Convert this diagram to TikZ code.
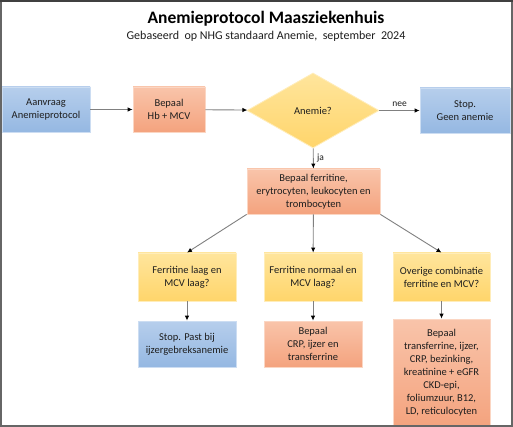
\documentclass[tikz,border=0pt]{standalone}
\usepackage{fontspec}
\setmainfont{Carlito}
\usepackage{tikz}
\usetikzlibrary{shapes.geometric}
\usetikzlibrary{arrows.meta}
\definecolor{bluetop}{HTML}{B6CEEC}
\definecolor{bluebot}{HTML}{95B8E2}
\definecolor{oratop}{HTML}{F9C4AA}
\definecolor{orabot}{HTML}{F4A37E}
\definecolor{yeltop}{HTML}{FFE59C}
\definecolor{yelbot}{HTML}{FFD56B}
\definecolor{txt}{HTML}{1E1E1E}
\definecolor{conn}{HTML}{808080}
\tikzstyle{box}=[inner sep=0pt, align=center, text=txt, line width=0.8pt, font=\fontsize{10.5}{13}\selectfont]
\tikzstyle{bluebox}=[box, draw=bluetop!70!white, top color=bluetop, bottom color=bluebot]
\tikzstyle{orabox}=[box, draw=oratop!70!white, top color=oratop, bottom color=orabot]
\tikzstyle{yelbox}=[box, draw=yeltop!70!white, top color=yeltop, bottom color=yelbot]
\tikzstyle{flow}=[draw=conn, line width=0.9pt, -{Latex[length=5pt, width=4.5pt, color=black]}]

\begin{document}
\begin{tikzpicture}[x=1pt, y=-1pt]
        \useasboundingbox (0, 0) rectangle (513, 427);
        \fill[white] (0, 0) rectangle (513, 427);
        \begin{scope}
        \clip (1.5, 1.5) rectangle (511, 425);
        % titel
        \node[font=\bfseries\fontsize{17.5}{20}\selectfont] (title) at (266, 19) {Anemieprotocol Maasziekenhuis};
        \node[text=txt, font=\fontsize{12}{14}\selectfont] (subtitle) at (266, 36) {Gebaseerd\ \ op NHG standaard Anemie,\ \ september\ \ 2024};
        % bovenste rij
        \node[bluebox, minimum width=88pt, minimum height=45pt] (aanvraag) at (46, 109.5) {Aanvraag\\Anemieprotocol};
        \node[orabox, minimum width=72pt, minimum height=45pt] (hbmcv) at (169, 109.5) {Bepaal\\Hb + MCV};
        \node[diamond, box, draw=yeltop!70!white, top color=yeltop, bottom color=yelbot, minimum width=132pt, minimum height=75pt] (anemie) at (313, 110.5) {Anemie?};
        \node[bluebox, minimum width=90pt, minimum height=45pt] (geen) at (465, 110.5) {Stop.\\Geen anemie};
        \node[orabox, minimum width=133pt, minimum height=45pt] (ferritine) at (313.5, 191.5) {Bepaal ferritine,\\erytrocyten, leukocyten en\\trombocyten};
        % vragen
        \node[yelbox, minimum width=98pt, minimum height=48pt] (laag) at (187, 277) {Ferritine laag en\\MCV laag?};
        \node[yelbox, minimum width=98pt, minimum height=48pt] (normaal) at (313, 277) {Ferritine normaal en\\MCV laag?};
        \node[yelbox, minimum width=97pt, minimum height=48pt] (overig) at (441.5, 277) {Overige combinatie\\ferritine en MCV?};
        % uitkomsten
        \node[bluebox, minimum width=98pt, minimum height=46pt] (ijzer) at (187, 344) {Stop. Past bij\\ijzergebreksanemie};
        \node[orabox, minimum width=98pt, minimum height=46pt] (crp) at (313, 344) {Bepaal\\CRP, ijzer en\\transferrine};
        \node[orabox, minimum width=97pt, minimum height=108pt] (uitgebreid) at (441.5, 373) {Bepaal\\transferrine, ijzer,\\CRP, bezinking,\\kreatinine + eGFR\\CKD-epi,\\foliumzuur, B12,\\LD, reticulocyten};
        % pijlen
        \draw[flow] (aanvraag) -- (hbmcv);
        \draw[flow] (hbmcv) -- (anemie);
        \draw[flow] (anemie) -- node[above, text=txt, font=\fontsize{9.5}{11}\selectfont] {nee} (geen);
        \draw[flow] (anemie) -- node[right, text=txt, font=\fontsize{9.5}{11}\selectfont] {ja} (ferritine);
        \draw[flow] (ferritine.south west) -- (laag.north);
        \draw[flow] (ferritine) -- (normaal);
        \draw[flow] (ferritine.south east) -- (overig.north);
        \draw[flow] (laag) -- (ijzer);
        \draw[flow] (normaal) -- (crp);
        \draw[flow] (overig) -- (uitgebreid.north);
        \end{scope}
        % kader
        \draw[gray!80!black, line width=1.5pt] (0.75, 0.75) rectangle (511.75, 425.75);
        \draw[black!75, line width=2pt] (0, 1) -- (513, 1);
    \end{tikzpicture}
\end{document}
